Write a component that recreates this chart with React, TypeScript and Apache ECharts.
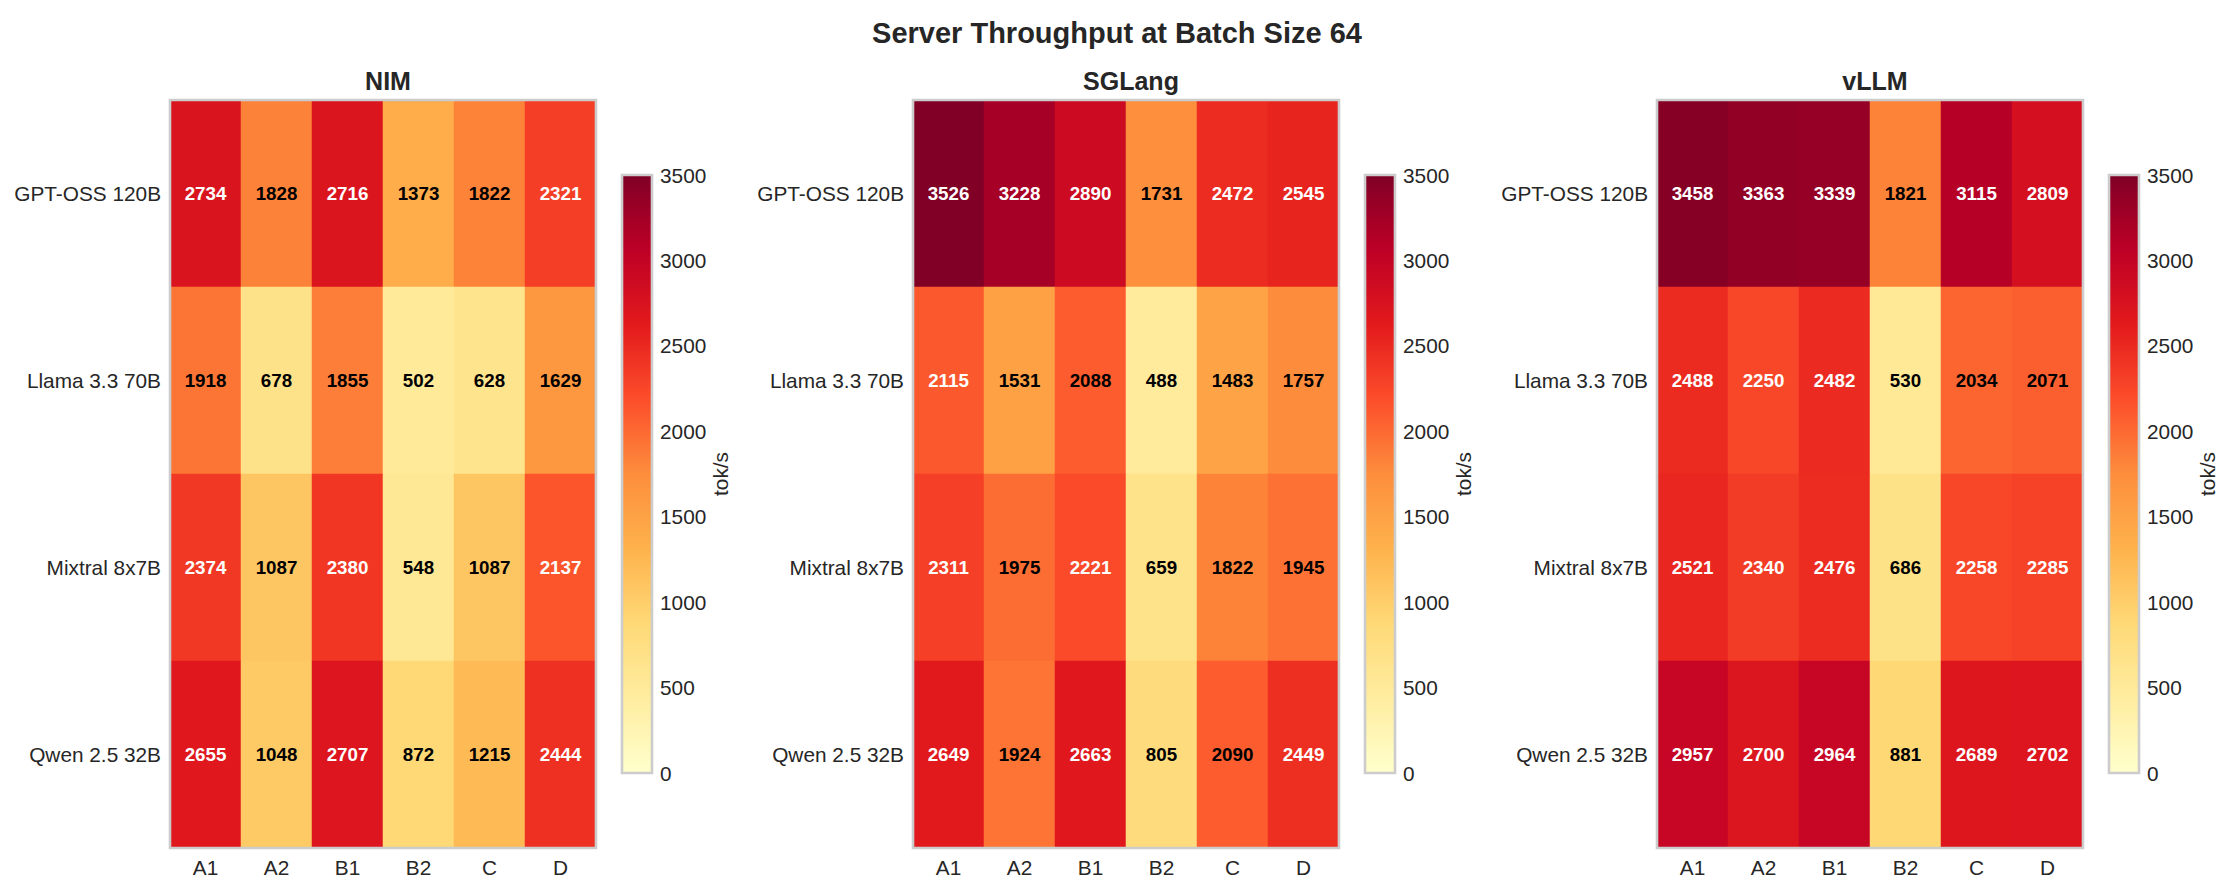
import React, { useEffect, useRef } from "react";
import * as echarts from "echarts";

const engines = ["NIM", "SGLang", "vLLM"];
const models = ["GPT-OSS 120B", "Llama 3.3 70B", "Mixtral 8x7B", "Qwen 2.5 32B"];
const configs = ["A1", "A2", "B1", "B2", "C", "D"];

const nimValues = [
  [2734, 1828, 2716, 1373, 1822, 2321],
  [1918, 678, 1855, 502, 628, 1629],
  [2374, 1087, 2380, 548, 1087, 2137],
  [2655, 1048, 2707, 872, 1215, 2444],
];
const sglangValues = [
  [3526, 3228, 2890, 1731, 2472, 2545],
  [2115, 1531, 2088, 488, 1483, 1757],
  [2311, 1975, 2221, 659, 1822, 1945],
  [2649, 1924, 2663, 805, 2090, 2449],
];
const vllmValues = [
  [3458, 3363, 3339, 1821, 3115, 2809],
  [2488, 2250, 2482, 530, 2034, 2071],
  [2521, 2340, 2476, 686, 2258, 2285],
  [2957, 2700, 2964, 881, 2689, 2702],
];
const allValues = [nimValues, sglangValues, vllmValues];

const colorMin = 0;
const colorMax = 3500;
const colorTickStep = 500;
const whiteTextAbove = 2100;

const ylOrRd = [
  "#ffffcc", "#ffeda0", "#fed976", "#feb24c", "#fd8d3c",
  "#fc4e2a", "#e31a1c", "#bd0026", "#800026",
];

const FONT = "'Liberation Sans', Arial, Helvetica, sans-serif";
const TXT = "#262626";

export default function App() {
  const ref = useRef<HTMLDivElement>(null);

  useEffect(() => {
    document.body.style.margin = "0";
    if (!ref.current) return;
    const chart = echarts.init(ref.current, undefined, { renderer: "svg" });

    const heatLefts = [170, 913, 1657];
    const heatTop = 100;
    const heatW = 426;
    const heatH = 748;
    const cbGap = 26;
    const cbW = 30;
    const cbH = Math.round(heatH * 0.8);
    const cbTop = heatTop + (heatH - cbH) / 2;

    const grids: any[] = [];
    const xAxes: any[] = [];
    const yAxes: any[] = [];
    const series: any[] = [];
    const titles: any[] = [
      {
        text: "Server Throughput at Batch Size 64",
        left: "center",
        top: 13,
        textStyle: { fontSize: 29, fontWeight: "bold", color: TXT, fontFamily: FONT },
      },
    ];

    engines.forEach((eng, i) => {
      const left = heatLefts[i];
      titles.push({
        text: eng,
        left: left + heatW / 2,
        textAlign: "center",
        top: 63,
        textStyle: { fontSize: 25, fontWeight: "bold", color: TXT, fontFamily: FONT },
      });
      grids.push({
        left,
        top: heatTop,
        width: heatW,
        height: heatH,
        show: true,
        z: 10,
        backgroundColor: "transparent",
        borderColor: "#cccccc",
        borderWidth: 2.6,
      });
      grids.push({
        left: left + heatW + cbGap,
        top: cbTop,
        width: cbW,
        height: cbH,
        show: true,
        z: 10,
        backgroundColor: "transparent",
        borderColor: "#cccccc",
        borderWidth: 2.6,
      });
      const gh = i * 2;
      const gc = i * 2 + 1;
      xAxes.push({
        type: "category",
        gridIndex: gh,
        data: configs,
        axisLine: { show: false },
        axisTick: { show: false },
        splitLine: { show: false },
        axisLabel: { color: TXT, fontSize: 20.8, fontFamily: FONT, margin: 9 },
      });
      yAxes.push({
        type: "category",
        gridIndex: gh,
        data: models,
        inverse: true,
        axisLine: { show: false },
        axisTick: { show: false },
        splitLine: { show: false },
        axisLabel: { color: TXT, fontSize: 20.8, fontFamily: FONT, margin: 9 },
      });
      xAxes.push({
        type: "category",
        gridIndex: gc,
        data: ["cb"],
        show: false,
      });
      yAxes.push({
        type: "value",
        gridIndex: gc,
        position: "right",
        min: colorMin,
        max: colorMax,
        interval: colorTickStep,
        axisLine: { show: false },
        axisTick: { show: false },
        splitLine: { show: false },
        axisLabel: {
          color: TXT,
          fontSize: 20.8,
          fontFamily: FONT,
          margin: 8,
          formatter: (v: number) => String(v),
        },
        name: "tok/s",
        nameLocation: "middle",
        nameRotate: 90,
        nameGap: 56,
        nameTextStyle: { color: TXT, fontSize: 20.8, fontFamily: FONT },
      });

      const vals = allValues[i];
      const data: any[] = [];
      vals.forEach((row, r) => {
        row.forEach((v, c) => {
          data.push({
            value: [c, r, v],
            label: { color: v > whiteTextAbove ? "#ffffff" : "#000000" },
          });
        });
      });
      series.push({
        type: "heatmap",
        xAxisIndex: gh,
        yAxisIndex: gh,
        data,
        label: {
          show: true,
          fontSize: 18.75,
          fontWeight: "bold",
          fontFamily: FONT,
          formatter: (p: any) => String(p.value[2]),
        },
        emphasis: { disabled: true },
      });
    });

    engines.forEach((_, i) => {
      const gc = i * 2 + 1;
      series.push({
        type: "bar",
        xAxisIndex: gc,
        yAxisIndex: gc,
        data: [colorMax],
        barWidth: "100%",
        silent: true,
        itemStyle: {
          color: new echarts.graphic.LinearGradient(
            0, 1, 0, 0,
            ylOrRd.map((c, k) => ({ offset: k / (ylOrRd.length - 1), color: c }))
          ),
        },
      });
    });

    chart.setOption({
      animation: false,
      backgroundColor: "#ffffff",
      title: titles,
      grid: grids,
      xAxis: xAxes,
      yAxis: yAxes,
      visualMap: {
        type: "continuous",
        show: false,
        min: colorMin,
        max: colorMax,
        seriesIndex: [0, 1, 2],
        inRange: { color: ylOrRd },
      },
      series,
    });

    return () => chart.dispose();
  }, []);

  return <div ref={ref} style={{ width: 2234, height: 889 }} />;
}
